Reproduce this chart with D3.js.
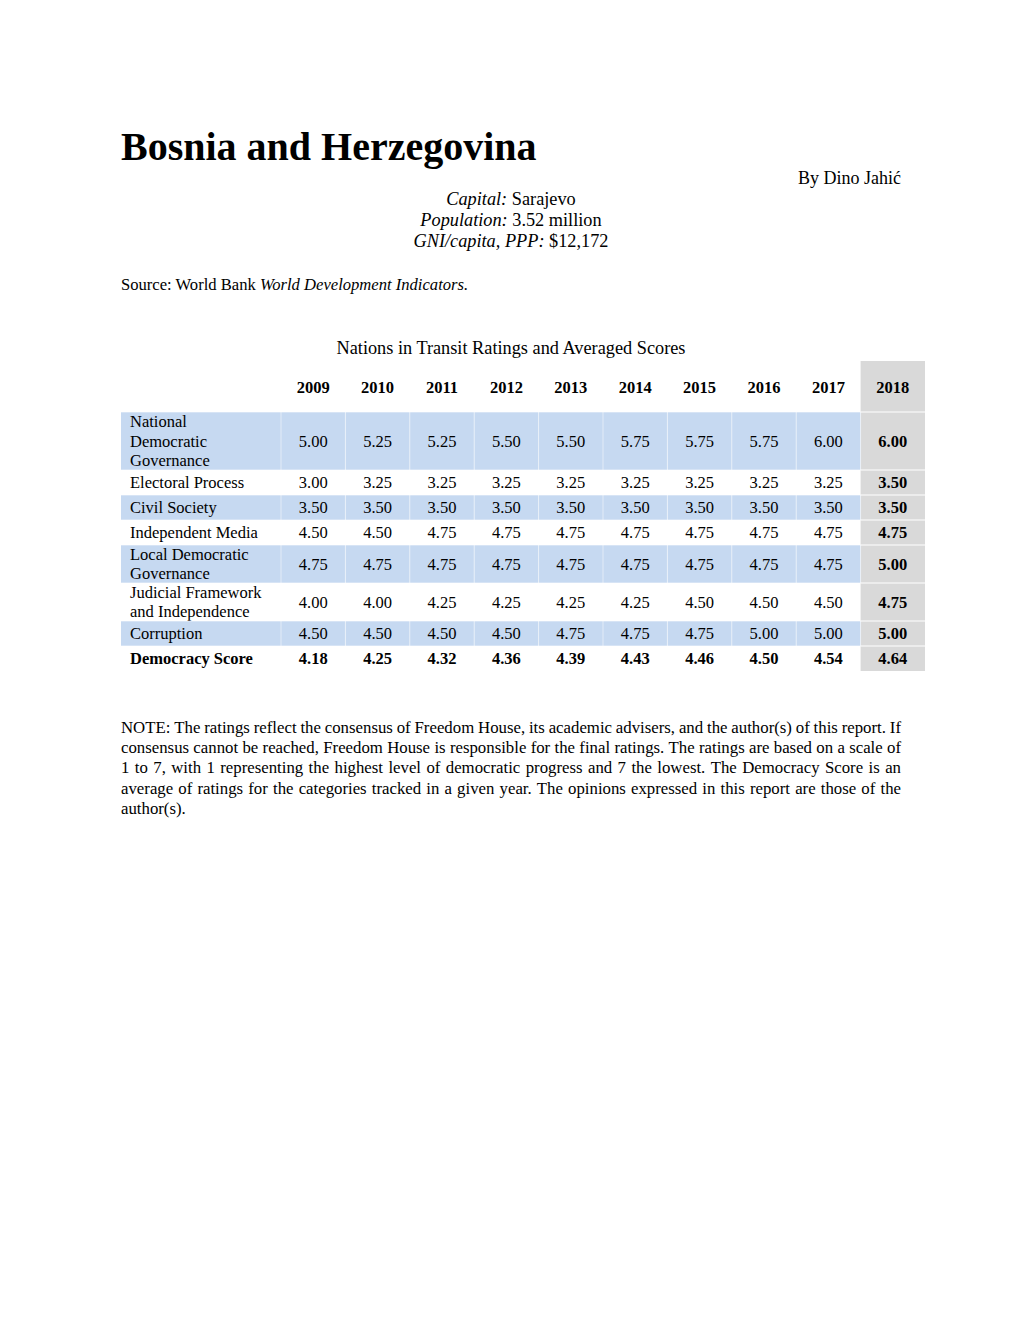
<!DOCTYPE html>
<html>
<head>
<meta charset="utf-8">
<script src="https://cdn.jsdelivr.net/npm/d3@7"></script>
<style>
html,body{margin:0;padding:0;background:#fff;}
svg{display:block;}
text{font-family:"Liberation Serif","Times New Roman",serif;fill:#000;}
</style>
</head>
<body>
<svg id="chart" width="1020" height="1320"></svg>
<script>
const years = ["2009","2010","2011","2012","2013","2014","2015","2016","2017","2018"];
const categories = [
  ["National","Democratic","Governance"],
  ["Electoral Process"],
  ["Civil Society"],
  ["Independent Media"],
  ["Local Democratic","Governance"],
  ["Judicial Framework","and Independence"],
  ["Corruption"],
  ["Democracy Score"]
];
const ndg        = [5.00,5.25,5.25,5.50,5.50,5.75,5.75,5.75,6.00,6.00];
const electoral  = [3.00,3.25,3.25,3.25,3.25,3.25,3.25,3.25,3.25,3.50];
const civil      = [3.50,3.50,3.50,3.50,3.50,3.50,3.50,3.50,3.50,3.50];
const media      = [4.50,4.50,4.75,4.75,4.75,4.75,4.75,4.75,4.75,4.75];
const local      = [4.75,4.75,4.75,4.75,4.75,4.75,4.75,4.75,4.75,5.00];
const judicial   = [4.00,4.00,4.25,4.25,4.25,4.25,4.50,4.50,4.50,4.75];
const corruption = [4.50,4.50,4.50,4.50,4.75,4.75,4.75,5.00,5.00,5.00];
const democracy  = [4.18,4.25,4.32,4.36,4.39,4.43,4.46,4.50,4.54,4.64];
const seriesValues = [ndg,electoral,civil,media,local,judicial,corruption,democracy];

const noteLines = [
 "NOTE: The ratings reflect the consensus of Freedom House, its academic advisers, and the author(s) of this report. If",
 "consensus cannot be reached, Freedom House is responsible for the final ratings. The ratings are based on a scale of",
 "1 to 7, with 1 representing the highest level of democratic progress and 7 the lowest. The Democracy Score is an",
 "average of ratings for the categories tracked in a given year. The opinions expressed in this report are those of the",
 "author(s)."
];

const svg = d3.select("#chart");
const BLUE = "#c6d9f1", GREY = "#d9d9d9";

// Header text
svg.append("text").attr("x",121).attr("y",160).attr("font-size",40).attr("font-weight","bold")
  .text("Bosnia and Herzegovina");
svg.append("text").attr("x",901).attr("y",184).attr("font-size",18).attr("text-anchor","end").text("By Dino Jahić");
const info = [["Capital:"," Sarajevo"],["Population:"," 3.52 million"],["GNI/capita, PPP:"," $12,172"]];
info.forEach((d,i)=>{
  const t = svg.append("text").attr("x",511).attr("y",205+i*21).attr("font-size",18.3).attr("text-anchor","middle");
  t.append("tspan").attr("font-style","italic").text(d[0]);
  t.append("tspan").text(d[1]);
});
const src = svg.append("text").attr("x",121).attr("y",290).attr("font-size",16.6);
src.append("tspan").text("Source: World Bank ");
src.append("tspan").attr("font-style","italic").text("World Development Indicators.");

svg.append("text").attr("x",511).attr("y",354).attr("font-size",18.3).attr("text-anchor","middle")
  .text("Nations in Transit Ratings and Averaged Scores");

// Table
const tableLeft = 121, labelRight = 281, tableRight = 925;
const x = d3.scaleBand().domain(years).range([labelRight, tableRight]);
const headerTop = 361, headerBottom = 412;
const rowH = categories.map(c => c.length === 1 ? 25 : c.length === 2 ? 38 : 58);
const rowTops = [];
let acc = headerBottom;
rowH.forEach(h => { rowTops.push(acc); acc += h; });
const tableBottom = acc;
const tfs = 16.5;

const g = svg.append("g");
g.append("rect").attr("x",x("2018")).attr("y",headerTop).attr("width",x.bandwidth()).attr("height",tableBottom-headerTop).attr("fill",GREY);

categories.forEach((cat,i)=>{
  const y0 = rowTops[i], h = rowH[i];
  const blue = i % 2 === 0 && i < 7;
  if (blue) {
    g.append("rect").attr("x",tableLeft).attr("y",y0).attr("width",labelRight-tableLeft).attr("height",h).attr("fill",BLUE);
    years.slice(0,9).forEach(yr=>{
      g.append("rect").attr("x",x(yr)).attr("y",y0).attr("width",x.bandwidth()).attr("height",h).attr("fill",BLUE);
    });
  }
  g.append("line").attr("x1",tableLeft).attr("x2",tableRight).attr("y1",y0).attr("y2",y0).attr("stroke","#fff").attr("stroke-opacity",0.6).attr("stroke-width",1);
  if (blue) {
    [labelRight].concat(years.slice(1,10).map(yr=>x(yr))).forEach(xx=>{
      g.append("line").attr("x1",xx).attr("x2",xx).attr("y1",y0).attr("y2",y0+h).attr("stroke","#fff").attr("stroke-opacity",0.5).attr("stroke-width",1);
    });
  }
  const bold = i === 7;
  const lh = 19.3;
  const midY = y0 + h/2 + 5.5;
  const firstY = midY - (cat.length-1)*lh/2;
  const lt = g.append("text").attr("x",130).attr("font-size",tfs).attr("font-weight",bold?"bold":null);
  cat.forEach((ln,k)=>{
    lt.append("tspan").attr("x",130).attr("y",firstY + k*lh).text(ln);
  });
  seriesValues[i].forEach((v,j)=>{
    g.append("text").attr("x",x(years[j])+x.bandwidth()/2).attr("y",midY).attr("text-anchor","middle")
      .attr("font-size",tfs).attr("font-weight",(bold||j===9)?"bold":null).text(v.toFixed(2));
  });
});
rowTops.forEach(y0=>{
  g.append("line").attr("x1",x("2018")).attr("x2",tableRight).attr("y1",y0).attr("y2",y0).attr("stroke","#fff").attr("stroke-opacity",0.6);
});
years.forEach(yr=>{
  g.append("text").attr("x",x(yr)+x.bandwidth()/2).attr("y",393).attr("text-anchor","middle")
    .attr("font-size",16.5).attr("font-weight","bold").text(yr);
});

// Note, justified
const noteLeft = 121, noteRight = 901, noteFs = 16.8;
noteLines.forEach((line,i)=>{
  const yy = 733 + i*20.2;
  const words = line.split(" ");
  const last = i === noteLines.length-1;
  const tmp = svg.append("text").attr("font-size",noteFs);
  const widths = words.map(w=>{ tmp.text(w); return tmp.node().getComputedTextLength(); });
  tmp.remove();
  const total = d3.sum(widths);
  const gap = last ? noteFs*0.25 : (noteRight-noteLeft-total)/(words.length-1);
  let cx = noteLeft;
  words.forEach((w,k)=>{
    svg.append("text").attr("x",cx).attr("y",yy).attr("font-size",noteFs).text(w);
    cx += widths[k] + gap;
  });
});
</script>
</body>
</html>
